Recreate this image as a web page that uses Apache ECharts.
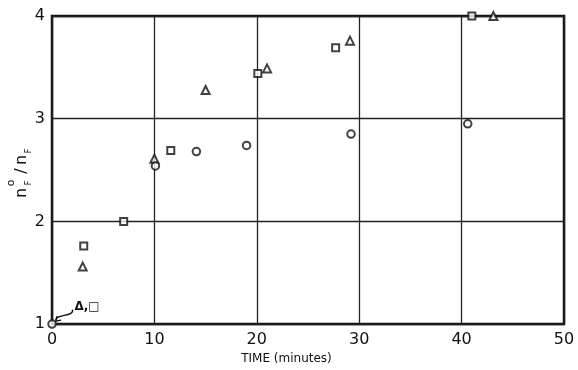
<!DOCTYPE html>
<html>
<head>
<meta charset="utf-8">
<script src="https://cdn.jsdelivr.net/npm/echarts@6/dist/echarts.min.js"></script>
<style>
  html, body { margin: 0; padding: 0; background: #fff; }
  #chart { width: 578px; height: 370px; }
</style>
</head>
<body>
<div id="chart"></div>
<script>
// Axis ranges and ticks
const xRange = [0, 50];
const xStep = 10;
const yRange = [1, 4];
const yStep = 1;

// Square markers: time (minutes) and n°F/nF
const squareTime  = [3.1, 7.0, 11.6, 20.1, 27.7, 41.0];
const squareRatio = [1.76, 2.00, 2.69, 3.44, 3.69, 4.00];

// Triangle markers
const triangleTime  = [3.0, 10.0, 15.0, 21.0, 29.1, 43.1];
const triangleRatio = [1.56, 2.61, 3.28, 3.49, 3.76, 4.00];

// Circle markers
const circleTime  = [0.0, 10.1, 14.1, 19.0, 29.2, 40.6];
const circleRatio = [1.00, 2.54, 2.68, 2.74, 2.85, 2.95];

// Note pointing to the origin point (triangle and square also start there)
const noteText = 'Δ,□';
const noteAnchor = [2.2, 1.17];
const noteTarget = [0, 1];

const FONT = 'DejaVu Sans';
const INK = '#111';

const pairs = (xs, ys) => xs.map((x, i) => [x, ys[i]]);
const hollow = { color: '#fff', borderColor: INK, borderWidth: 2 };

const chart = echarts.init(document.getElementById('chart'), null, { renderer: 'canvas' });

chart.setOption({
  animation: false,
  backgroundColor: '#fff',
  grid: {
    left: 52, right: 14, top: 16, bottom: 45,
    show: true, borderColor: INK, borderWidth: 2.5, backgroundColor: 'transparent'
  },
  xAxis: {
    type: 'value', min: xRange[0], max: xRange[1], interval: xStep,
    axisLine: { show: false }, axisTick: { show: false },
    splitLine: { show: true, lineStyle: { color: '#222', width: 1.3 } },
    axisLabel: { fontFamily: FONT, fontSize: 16, color: INK, margin: 8 },
    name: 'TIME (minutes)', nameLocation: 'middle', nameGap: 24,
    nameTextStyle: { fontFamily: FONT, fontSize: 12, color: INK, padding: [0, 43, 0, 0] }
  },
  yAxis: {
    type: 'value', min: yRange[0], max: yRange[1], interval: yStep,
    axisLine: { show: false }, axisTick: { show: false },
    splitLine: { show: true, lineStyle: { color: '#222', width: 1.3 } },
    axisLabel: { fontFamily: FONT, fontSize: 16, color: INK, margin: 7 }
  },
  series: [
    { type: 'scatter', name: 'square', symbol: 'rect', symbolSize: 7, clip: false, z: 5,
      itemStyle: hollow, data: pairs(squareTime, squareRatio) },
    { type: 'scatter', name: 'triangle', symbol: 'triangle', symbolSize: 8, clip: false, z: 5,
      itemStyle: hollow, data: pairs(triangleTime, triangleRatio) },
    { type: 'scatter', name: 'circle', symbol: 'circle', symbolSize: 7.5, clip: false, z: 5,
      itemStyle: hollow, data: pairs(circleTime, circleRatio) }
  ]
});

// Annotation and rotated y-axis title
const a = chart.convertToPixel({ gridIndex: 0 }, noteAnchor);
const t = chart.convertToPixel({ gridIndex: 0 }, noteTarget);
const sx = a[0] - 2, sy = a[1] + 3;        // tail of the wavy arrow
const ex = t[0] + 4, ey = t[1] - 3;        // head, just off the origin circle
const mx = (sx + ex) / 2, my = (sy + ey) / 2;

chart.setOption({
  graphic: [
    {
      type: 'text', x: a[0], y: a[1], z: 10,
      style: { text: noteText, fontFamily: FONT, fontSize: 12, fontWeight: 'bold', fill: INK,
               align: 'left', verticalAlign: 'middle' }
    },
    {
      type: 'bezierCurve', z: 10,
      shape: { x1: sx, y1: sy, x2: ex, y2: ey,
               cpx1: mx + 10, cpy1: my + 2, cpx2: mx - 10, cpy2: my - 2 },
      style: { stroke: INK, lineWidth: 1.4, fill: null }
    },
    {
      type: 'polyline', z: 10,
      shape: { points: [[ex + 1, ey - 5], [ex, ey], [ex + 5, ey - 1]] },
      style: { stroke: INK, lineWidth: 1.4, fill: null }
    },
    {
      type: 'group', x: 22, y: 173, rotation: Math.PI / 2, z: 10,
      children: [
        { type: 'text', x: -20, y: 0, style: { text: 'n', fontFamily: FONT, fontSize: 16, fill: INK, align: 'center', verticalAlign: 'middle' } },
        { type: 'text', x: -10, y: -11, style: { text: 'o', fontFamily: FONT, fontSize: 11, fill: INK, align: 'center', verticalAlign: 'middle' } },
        { type: 'text', x: -10, y: 7, style: { text: 'F', fontFamily: FONT, fontSize: 9, fill: INK, align: 'center', verticalAlign: 'middle' } },
        { type: 'text', x: 2, y: 0, style: { text: '/', fontFamily: FONT, fontSize: 16, fill: INK, align: 'center', verticalAlign: 'middle' } },
        { type: 'text', x: 13, y: 0, style: { text: 'n', fontFamily: FONT, fontSize: 16, fill: INK, align: 'center', verticalAlign: 'middle' } },
        { type: 'text', x: 22, y: 7, style: { text: 'F', fontFamily: FONT, fontSize: 9, fill: INK, align: 'center', verticalAlign: 'middle' } }
      ]
    }
  ]
});
</script>
</body>
</html>
